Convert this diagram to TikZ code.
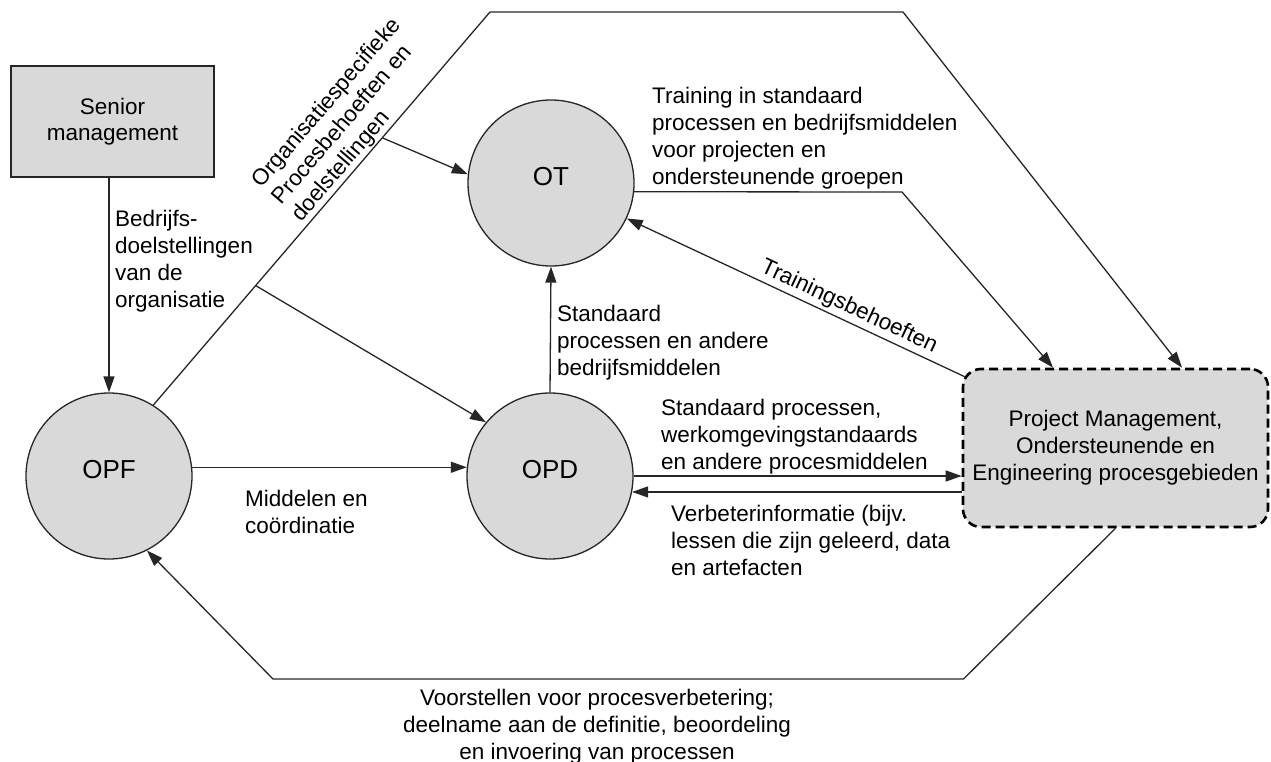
\documentclass[tikz,border=0pt]{standalone}
\usepackage{fontspec}
\setmainfont{Liberation Sans}
\usetikzlibrary{arrows.meta,calc}

\definecolor{linec}{HTML}{262626}
\definecolor{boxfill}{HTML}{D9D9D9}

\tikzset{
  txt/.style={font=\fontsize{22.5}{27}\selectfont, align=left, inner sep=0pt, anchor=north west},
  proc/.style={circle, draw=linec, fill=boxfill, line width=1.3pt, minimum size=166pt,
    inner sep=0pt, font=\fontsize{26}{30}\selectfont},
  smbox/.style={rectangle, draw=linec, fill=boxfill, line width=1.5pt, minimum width=203pt,
    minimum height=111pt, align=center, font=\fontsize{22.5}{26.5}\selectfont},
  pmbox/.style={rectangle, rounded corners=18pt, draw=black, fill=boxfill, line width=2.6pt,
    dash pattern=on 9pt off 5pt, minimum width=305pt, minimum height=158pt, align=center,
    font=\fontsize{22.5}{27}\selectfont},
  conn/.style={draw=linec, line width=1.3pt},
  arr/.style={conn, -{Triangle[length=16pt,width=11pt]}}
}

\begin{document}
\begin{tikzpicture}[x=1pt,y=-1pt]
\useasboundingbox (0,0) rectangle (1271,762);

% process areas and boxes
\node[smbox] (sm) at (112.5,121.5) {Senior\\management};
\node[proc] (OT) at (551,183) {\raisebox{-2pt}[0pt][0pt]{OT}};
\node[proc] (OPD) at (550,476) {\raisebox{-2pt}[0pt][0pt]{OPD}};
\node[proc] (OPF) at (109,476) {\raisebox{-2pt}[0pt][0pt]{OPF}};
\node[pmbox] (pm) at (1115.5,448) {Project Management,\\Ondersteunende en\\Engineering procesgebieden};

% bend points of the routed connectors
\coordinate (tl) at (490,12);
\coordinate (tr) at (903,12);
\coordinate (e1x) at (1182,0);
\coordinate (c1) at (902,192);
\coordinate (e2x) at (1053,0);
\coordinate (tb) at ([shift={(3,9)}]pm.north west);
\coordinate (d1) at (963.5,679);
\coordinate (d2) at (273,679);
\coordinate (b1) at ($(OPF.58)!0.304!(tl)$);
\coordinate (b2) at ($(OPF.58)!0.68!(tl)$);

% business objectives
\draw[arr] (OPF.north |- sm.south) -- (OPF.north);
\node[txt] (lbd) at (115,210) {Bedrijfs-\\doelstellingen\\van de\\organisatie};

% organisation-specific process needs
\draw[arr] (OPF.58) -- (tl) -- (tr) -- (e1x |- pm.north);
\draw[arr] (b1) -- (OPD.140);
\draw[arr] (b2) -- (OT.174);
\path (OPF.58) -- (tl) node[pos=0.45, rotate=49.4, anchor=south west, inner sep=1.5pt,
  align=left, font=\fontsize{22.5}{26}\selectfont] (lorg)
  {Organisatiespecifieke\\Procesbehoeften en\\doelstellingen};

% training
\draw[arr] (OT.-6) -- (c1) -- (e2x |- pm.north);
\node[txt] (ltr) at (652,87) {Training in standaard\\processen en bedrijfsmiddelen\\voor projecten en\\ondersteunende groepen};
\draw[arr] (tb) -- (OT) node[pos=0.36, sloped, above, inner sep=3pt,
  font=\fontsize{22.5}{27}\selectfont] (ltb) {Trainingsbehoeften};

% standard processes
\draw[arr] (OPD.north) -- (OT.south);
\node[txt] (lsp) at (557,305) {Standaard\\processen en andere\\bedrijfsmiddelen};
\draw[arr] (OPF.6) -- (OPD.174);
\node[txt] (lmc) at (245,490) {Middelen en\\coördinatie};
\draw[arr] (OPD.east) -- (OPD.east -| pm.west);
\node[txt] (lsw) at (661,399) {Standaard processen,\\werkomgevingstandaards\\en andere procesmiddelen};
\draw[arr] (pm.west |- OPD.-11) -- (OPD.-11);
\node[txt] (lvb) at (671,505) {Verbeterinformatie (bijv.\\lessen die zijn geleerd, data\\en artefacten};

% improvement proposals
\draw[arr] (pm.south) -- (d1) -- (d2) -- (OPF.-63);
\node[txt, align=center, anchor=north] (lvo) at (597,689)
  {Voorstellen voor procesverbetering;\\deelname aan de definitie, beoordeling\\en invoering van processen};
\end{tikzpicture}
\end{document}
